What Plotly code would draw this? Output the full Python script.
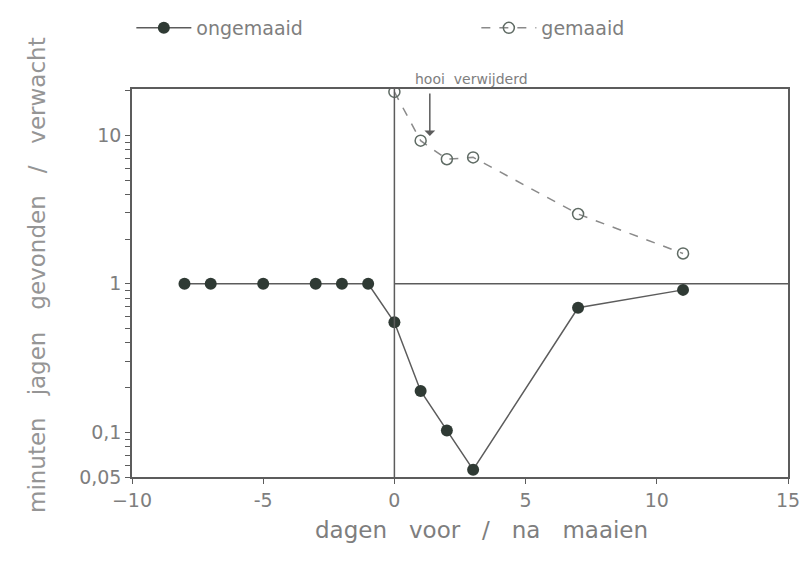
import plotly.graph_objects as go
import math

# data
x_ongemaaid = [-8, -7, -5, -3, -2, -1, 0, 1, 2, 3, 7, 11]
y_ongemaaid = [1.0, 1.0, 1.0, 1.0, 1.0, 1.0, 0.55, 0.19, 0.103, 0.056, 0.69, 0.91]
x_gemaaid = [0, 1, 2, 3, 7, 11]
y_gemaaid = [19.6, 9.2, 6.9, 7.1, 2.95, 1.6]
ref_x = [0, 15]
ref_y = [1, 1]
arrow_x = 1.35
y_major = [0.05, 0.1, 1, 10]
y_major_text = ["0,05", "0,1", "1", "10"]
y_minor = [0.06, 0.07, 0.08, 0.09, 0.2, 0.3, 0.4, 0.5, 0.6, 0.7, 0.8, 0.9,
           2, 3, 4, 5, 6, 7, 8, 9, 20]
x_tickvals = [-10, -5, 0, 5, 10, 15]
x_ticktext = ["\u221210", "-5", "0", "5", "10", "15"]

ink = "#5c5c5c"
txt = "#7e7e7e"
font = "DejaVu Sans"

y_tickvals = y_major + y_minor
y_ticktext = y_major_text + [""] * len(y_minor)

fig = go.Figure()
fig.add_trace(go.Scatter(x=ref_x, y=ref_y, mode="lines", line=dict(color=ink, width=1.5),
                         showlegend=False, hoverinfo="skip"))
fig.add_trace(go.Scatter(x=x_ongemaaid, y=y_ongemaaid, mode="lines+markers", name="ongemaaid",
                         line=dict(color=ink, width=1.5),
                         marker=dict(symbol="circle", size=12, color="#2f3a34")))
fig.add_trace(go.Scatter(x=x_gemaaid, y=y_gemaaid, mode="lines+markers", name="gemaaid",
                         line=dict(color="#8a8a8a", width=1.5, dash="dash"),
                         marker=dict(symbol="circle-open", size=11, color="#5f6b64", line=dict(width=1.5))))

fig.add_shape(type="line", xref="x", yref="paper", x0=0, x1=0, y0=0, y1=1,
              line=dict(color=ink, width=1.5))

fig.add_annotation(x=arrow_x, y=math.log10(9.9), xref="x", yref="y", ax=0, ay=-44,
                   showarrow=True, arrowhead=1, arrowsize=1.2, arrowwidth=1.5, arrowcolor=ink, text="")
fig.add_annotation(x=(471 - 132) / 656, y=1 + (89 - 69) / 388, xref="paper", yref="paper",
                   text="hooi  verwijderd", showarrow=False, font=dict(family=font, size=14, color=txt))
fig.add_annotation(x=-(132 - 22) / 656, y=(477 - 275) / 388, xref="paper", yref="paper",
                   text="minuten   jagen   gevonden   /   verwacht", textangle=-90, showarrow=False,
                   font=dict(family=font, size=23, color="#959595"))
fig.add_annotation(x=(481 - 132) / 656, y=-(545 - 477) / 388, xref="paper", yref="paper",
                   text="dagen   voor   /   na   maaien", showarrow=False,
                   font=dict(family=font, size=23, color=txt))

fig.update_layout(
    width=806, height=577,
    margin=dict(l=132, r=18, t=89, b=100, autoexpand=False),
    paper_bgcolor="white", plot_bgcolor="white",
    font=dict(family=font, size=19, color=txt),
    legend=dict(orientation="h", x=-0.001, y=1 + (89 - 28) / 388, xanchor="left", yanchor="middle",
                entrywidth=275, font=dict(size=19, color=txt), itemwidth=55),
    xaxis=dict(range=[-10, 15], tickmode="array", tickvals=x_tickvals, ticktext=x_ticktext,
               ticks="outside", ticklen=5, tickwidth=1.2, tickcolor=ink,
               showline=True, linecolor=ink, linewidth=1.5, mirror=True,
               showgrid=False, zeroline=False),
    yaxis=dict(type="log", range=[math.log10(0.05), math.log10(20.5)], tickmode="array",
               tickvals=y_tickvals, ticktext=y_ticktext, ticks="outside", ticklen=5, tickwidth=1.2,
               tickcolor=ink,
               showline=True, linecolor=ink, linewidth=1.5, mirror=True, showgrid=False, zeroline=False),
)

fig.write_html("out.html")
